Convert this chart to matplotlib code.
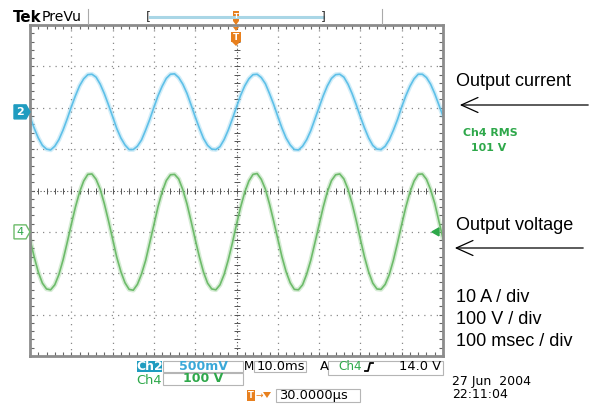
import matplotlib
matplotlib.use('Agg')
import matplotlib.pyplot as plt
from matplotlib.patches import Rectangle, Polygon, FancyArrowPatch
from matplotlib.lines import Line2D
import numpy as np

# ---------------- data ----------------
time_ms = list(range(0, 101))  # sample times, ms (10 ms / div on screen)

current_A = [
    -1.2, -3.9, -6.3, -8.1, -9.0, -9.2, -8.3, -6.7, -4.4, -1.7, 1.2, 3.9, 6.3, 8.0, 9.0, 9.1, 8.4, 6.7, 4.4, 1.7,
    -1.1, -4.0, -6.3, -8.0, -9.1, -9.1, -8.3, -6.8, -4.4, -1.8, 1.1, 3.9, 6.2, 8.1, 9.1, 9.2, 8.3, 6.7, 4.5, 1.7,
    -1.2, -3.9, -6.4, -8.1, -9.0, -9.1, -8.4, -6.7, -4.4, -1.7, 1.2, 4.0, 6.3, 8.0, 9.0, 9.1, 8.3, 6.8, 4.4, 1.8,
    -1.1, -3.9, -6.3, -8.0, -9.1, -9.2, -8.3, -6.7, -4.5, -1.7, 1.1, 3.9, 6.3, 8.1, 9.0, 9.1, 8.4, 6.7, 4.4, 1.7,
    -1.2, -3.9, -6.3, -8.1, -9.0, -9.1, -8.3, -6.7, -4.4, -1.8, 1.2, 3.9, 6.2, 8.0, 9.1, 9.1, 8.3, 6.7, 4.4, 1.7,
    -1.0,
]

voltage_V = [
    -18, -60, -97, -124, -138, -140, -128, -103, -68, -26, 18, 60, 96, 123, 139, 140, 127, 103, 68, 27,
    -17, -61, -96, -123, -139, -141, -127, -102, -69, -26, 17, 61, 97, 124, 138, 139, 128, 102, 68, 26,
    -18, -60, -97, -124, -138, -140, -128, -103, -68, -27, 18, 60, 96, 123, 139, 141, 127, 103, 67, 26,
    -17, -60, -96, -123, -139, -140, -128, -102, -68, -26, 17, 60, 97, 124, 138, 140, 128, 103, 68, 27,
    -18, -61, -97, -124, -138, -139, -127, -103, -68, -26, 18, 60, 96, 123, 139, 140, 127, 102, 69, 26,
    -16,
]

ch2_offset_div = 1.9
ch4_offset_div = -1.0
amps_per_div = 10
volts_per_div = 100
ms_per_div = 10

label_current = "Output current"
label_voltage = "Output voltage"
scale_labels = ["10 A / div", "100 V / div", "100 msec / div"]

# ---------------- figure ----------------
W, H = 591, 404
fig = plt.figure(figsize=(W / 100, H / 100), dpi=100)
fig.patch.set_facecolor('white')


def fx(x):
    return x / W


def fy(y):
    return 1 - y / H


def pt(px):
    return px / 1.389


def fline(xs, ys, **kw):
    fig.add_artist(Line2D([fx(v) for v in xs], [fy(v) for v in ys],
                          transform=fig.transFigure, **kw))


def frect(x0, y0, x1, y1, **kw):
    fig.add_artist(Rectangle((fx(x0), fy(y1)), fx(x1) - fx(x0), fy(y0) - fy(y1),
                             transform=fig.transFigure, **kw))


def ftext(x, y, s, **kw):
    fig.text(fx(x), fy(y), s, **kw)


def fpoly(pts, **kw):
    fig.add_artist(Polygon([(fx(a), fy(b)) for a, b in pts], closed=True,
                           transform=fig.transFigure, **kw))


BLUE = '#5ec0e8'
GREEN = '#6dbb6a'
TEAL = '#1f9cc0'
ORANGE = '#e8801e'
DGREEN = '#2ea84a'

ax = fig.add_axes([fx(30), fy(356), (443 - 30) / W, (356 - 25) / H])
ax.set_xlim(0, 10)
ax.set_ylim(-4, 4)
for s in ax.spines.values():
    s.set_color('#8c8c8c')
    s.set_linewidth(2.0)
ax.set_xticks([])
ax.set_yticks([])
ax.set_xticks(np.arange(0, 10.01, 0.2), minor=True)
ax.set_yticks(np.arange(-4, 4.01, 0.2), minor=True)
ax.tick_params(which='minor', direction='in', length=3, width=0.8, color='#666666',
               top=True, right=True, labelbottom=False, labelleft=False)

# graticule
for i in range(1, 10):
    if i != 5:
        ax.axvline(i, color='#8a8a8a', ls=(0, (1, 4)), lw=0.9)
for j in range(-3, 4):
    if j != 0:
        ax.axhline(j, color='#8a8a8a', ls=(0, (1, 4)), lw=0.9)
ax.axvline(5, color='#555555', ls=(0, (1, 2)), lw=0.8)
ax.axhline(0, color='#555555', ls=(0, (1, 2)), lw=0.8)
ticks_x = np.arange(0, 10.01, 0.2)
ticks_y = np.arange(-4, 4.01, 0.2)
ax.plot(ticks_x, np.zeros_like(ticks_x), ls='none', marker='|', ms=5, mew=0.7, color='#555555')
ax.plot(np.full_like(ticks_y, 5), ticks_y, ls='none', marker='_', ms=5, mew=0.7, color='#555555')

# traces
tdiv = [t / ms_per_div for t in time_ms]
cur_div = [i / amps_per_div + ch2_offset_div for i in current_A]
vol_div = [v / volts_per_div + ch4_offset_div for v in voltage_V]
ax.plot(tdiv, cur_div, color=BLUE, lw=3.4, alpha=0.28, solid_capstyle='round')
ax.plot(tdiv, cur_div, color=BLUE, lw=1.2)
ax.plot(tdiv, vol_div, color=GREEN, lw=3.4, alpha=0.28, solid_capstyle='round')
ax.plot(tdiv, vol_div, color=GREEN, lw=1.2)


def yscreen(div):
    return 190.5 - div * (356 - 25) / 8


# channel markers at left
yc2 = yscreen(ch2_offset_div)
yc4 = yscreen(ch4_offset_div)
fpoly([(14, yc2 - 7), (26, yc2 - 7), (30, yc2), (26, yc2 + 7), (14, yc2 + 7)],
      facecolor=TEAL, edgecolor=TEAL)
ftext(20, yc2, '2', color='white', fontsize=8, fontweight='bold', ha='center', va='center')
fpoly([(14, yc4 - 7), (26, yc4 - 7), (30, yc4), (26, yc4 + 7), (14, yc4 + 7)],
      facecolor='white', edgecolor=GREEN, lw=1)
ftext(20, yc4, '4', color=DGREEN, fontsize=8, ha='center', va='center')
fpoly([(432, yc4), (439, yc4 - 4), (439, yc4 + 4)], facecolor=DGREEN, edgecolor=DGREEN)

# top bar
ftext(13, 17, 'Tek', fontsize=pt(15), fontweight='bold', va='center', family='DejaVu Sans')
ftext(42, 17, 'PreVu', fontsize=pt(14), va='center', family='DejaVu Sans')
fline([88, 88], [9, 24], color='#aaaaaa', lw=0.8)
fline([382, 382], [9, 24], color='#aaaaaa', lw=0.8)
fline([150, 323], [17, 17], color='#a9d6e6', lw=2.2)
ftext(148, 17, '[', fontsize=9, va='center', ha='center', color='#333333')
ftext(323, 17, ']', fontsize=9, va='center', ha='center', color='#333333')
# trigger position markers
frect(233, 11, 239, 21, facecolor=ORANGE, edgecolor='none')
ftext(236, 16, 'T', fontsize=5, color='white', ha='center', va='center', fontweight='bold')
fpoly([(233, 21), (239, 21), (236, 25)], facecolor=ORANGE, edgecolor='none')
frect(231, 32, 241, 42, facecolor=ORANGE, edgecolor='none')
ftext(236, 37, 'T', fontsize=6.5, color='white', ha='center', va='center', fontweight='bold')
fpoly([(232, 42), (240, 42), (236, 46)], facecolor=ORANGE, edgecolor='none')
fpoly([(233, 27), (239, 27), (236, 31)], facecolor=ORANGE, edgecolor='none')

# right annotations
AF = 'Liberation Sans'
ftext(456, 82, label_current, fontsize=pt(18), family=AF, va='center')
fig.add_artist(FancyArrowPatch(
    (fx(591), fy(105)), (fx(457), fy(105)), transform=fig.transFigure,
    arrowstyle='->,head_length=1.0,head_width=0.45', mutation_scale=12, lw=0.9, color='black'))
ftext(490, 133, 'Ch4 RMS', fontsize=pt(11), family='DejaVu Sans', fontweight='bold', color=DGREEN,
      ha='center', va='center')
ftext(489, 148, '101 V', fontsize=pt(11), family='DejaVu Sans', fontweight='bold', color=DGREEN,
      ha='center', va='center')
ftext(456, 225, label_voltage, fontsize=pt(18), family=AF, va='center')
fig.add_artist(FancyArrowPatch(
    (fx(586), fy(248)), (fx(452), fy(248)), transform=fig.transFigure,
    arrowstyle='->,head_length=1.0,head_width=0.45', mutation_scale=12, lw=0.9, color='black'))
for s, yy in zip(scale_labels, [297, 319, 342]):
    ftext(456, yy, s, fontsize=pt(18), family=AF, va='center')

# bottom status area
SF = 'DejaVu Sans'
FS = pt(13)
FB = pt(12.5)
frect(137, 361, 162, 372, facecolor=TEAL, edgecolor='none')
ftext(149.5, 366.5, 'Ch2', fontsize=FB, color='white', fontweight='bold', ha='center', va='center', family=SF)
frect(163, 361, 243, 372, facecolor='white', edgecolor='#b5b5b5', lw=0.8)
ftext(203, 366.5, '500mV', fontsize=FB, color='#3aa8d8', fontweight='bold', ha='center', va='center', family=SF)
ftext(243.5, 366.5, 'M', fontsize=pt(12), color='black', ha='left', va='center', family=SF)
frect(254, 361, 306, 372, facecolor='white', edgecolor='#b5b5b5', lw=0.8)
ftext(256.5, 366.5, '10.0ms', fontsize=FS, color='black', ha='left', va='center', family=SF)
ftext(320, 366.5, 'A', fontsize=FS, color='black', ha='left', va='center', family=SF)
frect(328, 361, 443, 375, facecolor='white', edgecolor='#b5b5b5', lw=0.8)
ftext(338, 367, 'Ch4', fontsize=pt(12), color=DGREEN, ha='left', va='center', family=SF)
fline([365, 368, 370, 373], [371, 371, 363, 363], color='black', lw=1.3)
ftext(441, 367, '14.0 V', fontsize=FS, color='black', ha='right', va='center', family=SF)
ftext(149.5, 380, 'Ch4', fontsize=FS, color=DGREEN, ha='center', va='center', family=SF)
frect(163, 373, 243, 385, facecolor='white', edgecolor='#b5b5b5', lw=0.8)
ftext(203, 379, '100 V', fontsize=FB, color=DGREEN, fontweight='bold', ha='center', va='center', family=SF)
frect(247, 390, 255, 401, facecolor=ORANGE, edgecolor='none')
ftext(251, 395.5, 'T', fontsize=6, color='white', fontweight='bold', ha='center', va='center', family=SF)
ftext(256, 395.5, '\u2192', fontsize=6.5, color=ORANGE, ha='left', va='center', family=SF)
fpoly([(263, 392), (271, 392), (267, 398)], facecolor=ORANGE, edgecolor='none')
frect(276, 389, 360, 402, facecolor='white', edgecolor='#b5b5b5', lw=0.8)
ftext(279, 395.5, '30.0000\u00b5s', fontsize=FS, color='black', ha='left', va='center', family=SF)
ftext(452, 381, '27 Jun  2004', fontsize=pt(12.5), color='black', ha='left', va='center', family=SF)
ftext(452, 395, '22:11:04', fontsize=pt(12.5), color='black', ha='left', va='center', family=SF)

fig.savefig('out.png', dpi=100, facecolor='white')
